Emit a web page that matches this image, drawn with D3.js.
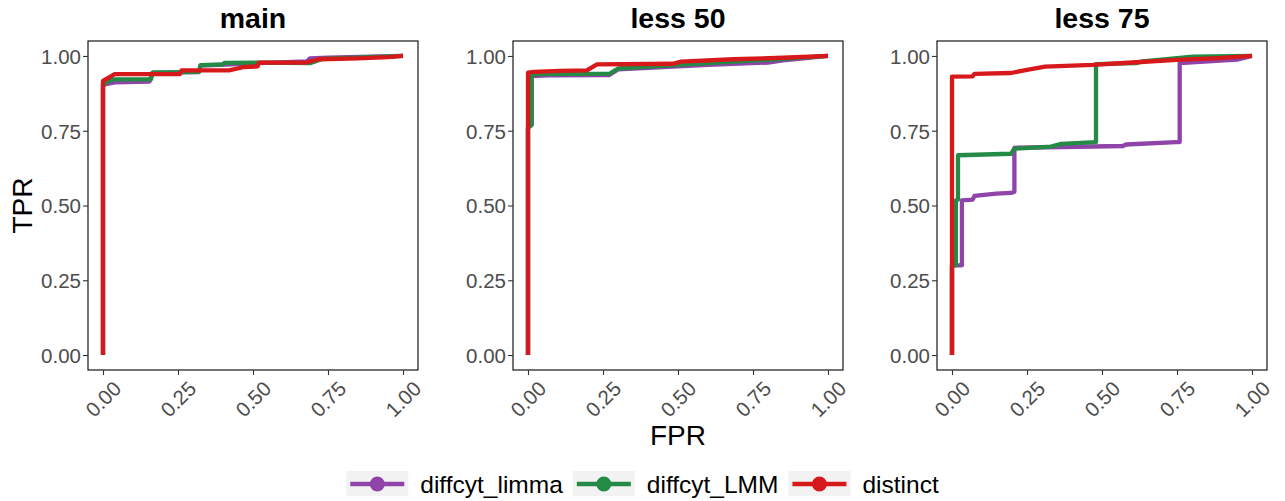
<!DOCTYPE html>
<html>
<head>
<meta charset="utf-8">
<script src="https://cdnjs.cloudflare.com/ajax/libs/d3/7.8.5/d3.min.js"></script>
<style>
  html, body { margin: 0; padding: 0; background: #ffffff; }
  svg { display: block; font-family: "Liberation Sans", Arial, sans-serif; }
</style>
</head>
<body>
<svg id="chart" width="1285" height="501"></svg>
<script>
// Facet panels
const panelNames = ["main", "less 50", "less 75"];
const methods = ["diffcyt_limma", "diffcyt_LMM", "distinct"];
const methodColors = ["#8E44A8", "#238B45", "#D7191C"];
const tickValues = [0, 0.25, 0.5, 0.75, 1];
const tickLabels = ["0.00", "0.25", "0.50", "0.75", "1.00"];

// ROC vertices [FPR, TPR] per method, panel "main"
const mainLimma = [[0,0],[0,0.90],[0.005,0.905],[0.04,0.912],[0.155,0.914],[0.165,0.944],[0.32,0.946],[0.325,0.968],[0.52,0.976],[0.68,0.982],[0.69,0.992],[0.75,0.994],[1,1]];
const mainLMM = [[0,0],[0,0.90],[0.005,0.908],[0.03,0.922],[0.16,0.922],[0.165,0.944],[0.32,0.947],[0.325,0.969],[0.40,0.972],[0.405,0.977],[0.52,0.978],[0.69,0.976],[0.73,0.99],[1,1]];
const mainDistinct = [[0,0],[0,0.917],[0.039,0.939],[0.256,0.939],[0.262,0.952],[0.42,0.952],[0.47,0.963],[0.515,0.965],[0.52,0.978],[0.678,0.978],[0.72,0.989],[0.85,0.992],[0.95,0.996],[1,1]];

// panel "less 50"
const l50Limma = [[0,0],[0,0.76],[0.012,0.77],[0.012,0.933],[0.07,0.935],[0.27,0.936],[0.30,0.955],[0.5,0.965],[0.6,0.97],[0.8,0.978],[0.85,0.985],[1,1]];
const l50LMM = [[0,0],[0,0.76],[0.012,0.77],[0.012,0.939],[0.273,0.941],[0.30,0.958],[0.5,0.97],[0.7,0.982],[0.85,0.99],[1,1]];
const l50Distinct = [[0,0],[0,0.944],[0.02,0.947],[0.107,0.95],[0.196,0.952],[0.23,0.972],[0.484,0.974],[0.51,0.981],[0.684,0.989],[0.85,0.994],[1,1]];

// panel "less 75"
const l75Limma = [[0,0],[0,0.30],[0.033,0.30],[0.033,0.517],[0.069,0.52],[0.075,0.532],[0.147,0.54],[0.197,0.542],[0.208,0.546],[0.208,0.693],[0.57,0.699],[0.58,0.704],[0.747,0.712],[0.759,0.712],[0.759,0.976],[0.95,0.988],[1,1]];
const l75LMM = [[0,0],[0,0.30],[0.013,0.30],[0.013,0.517],[0.02,0.52],[0.02,0.668],[0.197,0.673],[0.208,0.69],[0.33,0.697],[0.364,0.706],[0.48,0.712],[0.48,0.973],[0.614,0.976],[0.635,0.982],[0.803,0.998],[1,1]];
const l75Distinct = [[0,0],[0,0.931],[0.069,0.932],[0.075,0.94],[0.197,0.943],[0.236,0.951],[0.31,0.964],[0.47,0.97],[0.614,0.979],[0.75,0.987],[0.89,0.993],[1,1]];

const panelSeries = [
  [mainLimma, mainLMM, mainDistinct],
  [l50Limma, l50LMM, l50Distinct],
  [l75Limma, l75LMM, l75Distinct]
];

const svg = d3.select("#chart");
const panelLefts = [88, 513, 937];
const panelTop = 41, panelW = 330, panelH = 329;
const textGrey = "#4D4D4D";

const y = d3.scaleLinear().domain([-0.05, 1.05]).range([panelTop + panelH, panelTop]);

panelNames.forEach((name, p) => {
  const left = panelLefts[p];
  const x = d3.scaleLinear().domain([-0.05, 1.05]).range([left, left + panelW]);
  const g = svg.append("g");

  // title
  g.append("text")
    .attr("x", left + panelW / 2).attr("y", 28)
    .attr("text-anchor", "middle")
    .attr("font-size", 28.5).attr("font-weight", "bold")
    .attr("fill", "#000")
    .text(name);

  // series lines
  const line = d3.line().x(d => x(d[0])).y(d => y(d[1]));
  panelSeries[p].forEach((s, i) => {
    g.append("path")
      .attr("d", line(s))
      .attr("fill", "none")
      .attr("stroke", methodColors[i])
      .attr("stroke-width", 4.3)
      .attr("stroke-linejoin", "round")
      .attr("stroke-linecap", "butt");
  });

  // border
  g.append("rect")
    .attr("x", left).attr("y", panelTop)
    .attr("width", panelW).attr("height", panelH)
    .attr("fill", "none").attr("stroke", "#000").attr("stroke-width", 1.1);

  // x axis
  const xAxis = d3.axisBottom(x).tickValues(tickValues).tickSize(5).tickFormat((d, i) => tickLabels[i]);
  const xg = g.append("g").attr("transform", `translate(0,${panelTop + panelH})`).call(xAxis);
  xg.select(".domain").remove();
  xg.selectAll(".tick line").attr("stroke", "#333333").attr("stroke-width", 1.1);
  xg.selectAll(".tick text")
    .attr("font-size", 20.5).attr("fill", textGrey)
    .attr("font-family", "Liberation Sans, Arial, sans-serif")
    .attr("text-anchor", "end")
    .attr("dy", null).attr("y", null)
    .attr("transform", "translate(19,20) rotate(-45)");

  // y axis
  const yAxis = d3.axisLeft(y).tickValues(tickValues).tickSize(5).tickFormat((d, i) => tickLabels[i]);
  const yg = g.append("g").attr("transform", `translate(${left},0)`).call(yAxis);
  yg.select(".domain").remove();
  yg.selectAll(".tick line").attr("stroke", "#333333").attr("stroke-width", 1.1);
  yg.selectAll(".tick text")
    .attr("font-size", 20.5).attr("fill", textGrey)
    .attr("font-family", "Liberation Sans, Arial, sans-serif")
    .attr("x", -7).attr("dy", "0.36em");
});

// axis titles
svg.append("text")
  .attr("transform", `translate(32,${panelTop + panelH / 2}) rotate(-90)`)
  .attr("text-anchor", "middle")
  .attr("font-size", 28).attr("fill", "#000")
  .text("TPR");

svg.append("text")
  .attr("x", panelLefts[1] + panelW / 2).attr("y", 445)
  .attr("text-anchor", "middle")
  .attr("font-size", 28).attr("fill", "#000")
  .text("FPR");

// legend
const keyW = 62, keyH = 25, keyY = 471, textGap = 12, itemGap = 10;
const legend = svg.append("g");
let cursor = 0;
methods.forEach((m, i) => {
  const item = legend.append("g").attr("transform", `translate(${cursor},0)`);
  item.append("rect")
    .attr("x", 0).attr("y", keyY).attr("width", keyW).attr("height", keyH)
    .attr("fill", "#F2F2F2");
  item.append("line")
    .attr("x1", 4).attr("x2", keyW - 4)
    .attr("y1", keyY + keyH / 2 + 0.5).attr("y2", keyY + keyH / 2 + 0.5)
    .attr("stroke", methodColors[i]).attr("stroke-width", 4.3);
  item.append("circle")
    .attr("cx", keyW / 2).attr("cy", keyY + keyH / 2 + 0.5).attr("r", 7.5)
    .attr("fill", methodColors[i]);
  const t = item.append("text")
    .attr("x", keyW + textGap).attr("y", keyY + keyH / 2 + 0.5)
    .attr("dy", "0.36em")
    .attr("font-size", 24.5).attr("fill", "#000")
    .text(m);
  cursor += keyW + textGap + t.node().getComputedTextLength() + itemGap;
});
const legendWidth = cursor - itemGap;
legend.attr("transform", `translate(${642.5 - legendWidth / 2},0)`);
</script>
</body>
</html>
